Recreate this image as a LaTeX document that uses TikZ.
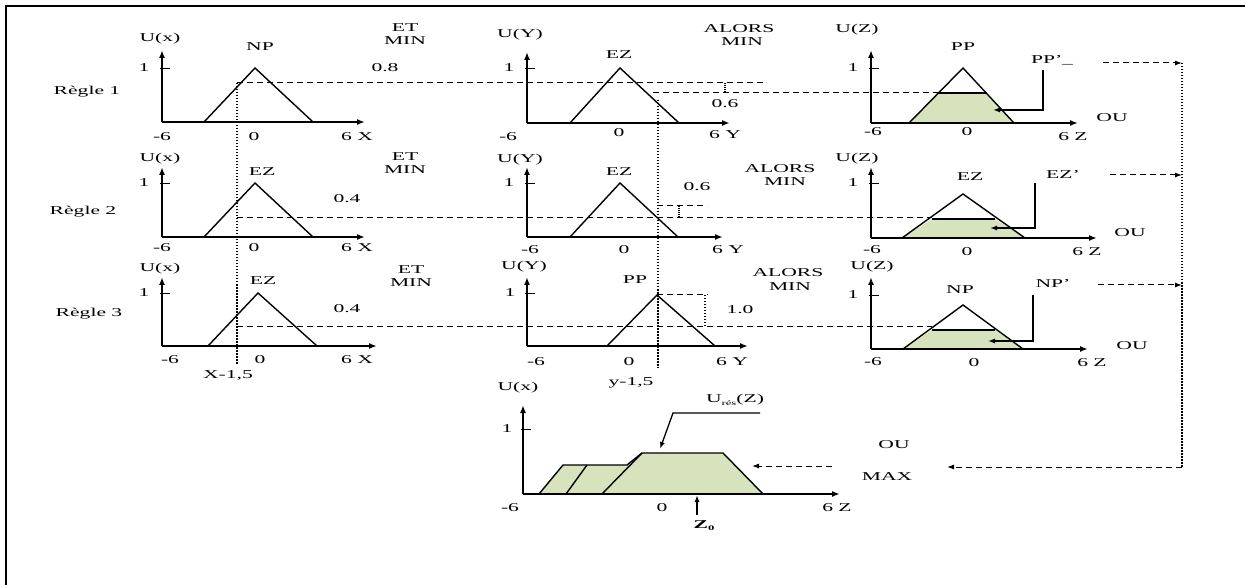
\documentclass[tikz,border=0pt]{standalone}
\usepackage{fontspec}
\newfontfamily\wide{Liberation Serif}[FakeStretch=1.8]
\usetikzlibrary{arrows.meta}
\definecolor{fillg}{RGB}{214,227,188}
\newcommand\myaxes[5]{%
  \draw[axisl] (#1,#2) -- (#1,#3);
  \draw[axisl] (#1,#2) -- (#4,#2);
  \draw[line width=0.9pt] ({#1-2},#5) -- ({#1+8},#5);}
\begin{document}
\begin{tikzpicture}[x=1pt,y=-1pt,
  lbl/.style={font=\wide\fontsize{12}{13}\selectfont, inner sep=0pt},
  axisl/.style={line width=2pt, -{Latex[length=8pt,width=6pt]}},
  tri/.style={line width=1.4pt, line join=miter},
  dsh/.style={line width=1pt, dash pattern=on 6pt off 4pt},
  dotl/.style={line width=2.2pt, dash pattern=on 1.5pt off 1.5pt},
  arr/.style={-{Latex[length=7pt,width=5pt]}},
]
\useasboundingbox (0,0) rectangle (1245,585);
% frame
\draw[line width=2.5pt] (6,585) -- (6,6) -- (1245,6);

% ===== Column 1 =====
\myaxes{162}{122}{50}{365}{68}
\draw[tri] (204,122) -- (255,68) -- (313,122);
\node[lbl] (ux1) at (160,39) {U(x)};
\node[lbl] (o11) at (144,68) {1};
\node[lbl] (np1) at (260,47) {NP};
\node[lbl] (m61) at (162,137) {-6};
\node[lbl] (z01) at (254,137) {0};
\node[lbl] (p61) at (357,137) {6 X};
\node[lbl] (r1) at (87,92) {Règle 1};
\node[lbl] (v08) at (385,68) {0.8};
\node[lbl] (et1) at (405,28) {ET};
\node[lbl] (mn1) at (405,41) {MIN};

\myaxes{162}{237}{167}{365}{183}
\draw[tri] (204,237) -- (255,183) -- (313,237);
\node[lbl] (ux2) at (160,159) {U(x)};
\node[lbl] (o12) at (144,183) {1};
\node[lbl] (ez2) at (262,172) {EZ};
\node[lbl] (m62) at (162,248) {-6};
\node[lbl] (z02) at (254,248) {0};
\node[lbl] (p62) at (357,248) {6 X};
\node[lbl] (r2) at (83,212) {Règle 2};
\node[lbl] (v04a) at (347,199) {0.4};
\node[lbl] (et2) at (405,157) {ET};
\node[lbl] (mn2) at (405,170) {MIN};

\myaxes{162}{346}{277}{377}{293}
\draw[tri] (208,346) -- (258,293) -- (317,346);
\node[lbl] (ux3) at (160,269) {U(x)};
\node[lbl] (o13) at (144,293) {1};
\node[lbl] (ez3) at (263,281) {EZ};
\node[lbl] (m63) at (170,360) {-6};
\node[lbl] (z03) at (260,360) {0};
\node[lbl] (p63) at (357,360) {6 X};
\node[lbl] (r3) at (89,314) {Règle 3};
\node[lbl] (v04b) at (347,309) {0.4};
\node[lbl] (et3) at (411,270) {ET};
\node[lbl] (mn3) at (411,283) {MIN};
\node[lbl] (xv) at (228,375) {X-1,5};
\draw[dotl] (237,83) -- (237,365);

% ===== Column 2 =====
\myaxes{527}{123}{52}{730}{68}
\draw[tri] (570,123) -- (620,68) -- (679,123);
\node[lbl] (uy1) at (520,35) {U(Y)};
\node[lbl] (o21) at (509,68) {1};
\node[lbl] (ez21) at (619,55) {EZ};
\node[lbl] (m621) at (508,137) {-6};
\node[lbl] (z021) at (619,133) {0};
\node[lbl] (p621) at (725,135) {6 Y};
\node[lbl] (v06a) at (725,104) {0.6};
\node[lbl] (al1) at (739,29) {ALORS};
\node[lbl] (am1) at (742,42) {MIN};
\draw[line width=1.2pt, dash pattern=on 1pt off 1pt] (725,83) -- (725,93);

\myaxes{527}{237}{167}{723}{183}
\draw[tri] (570,237) -- (620,183) -- (678,237);
\node[lbl] (uy2) at (520,160) {U(Y)};
\node[lbl] (o22) at (509,183) {1};
\node[lbl] (ez22) at (619,172) {EZ};
\node[lbl] (m622) at (530,250) {-6};
\node[lbl] (z022) at (624,250) {0};
\node[lbl] (p622) at (728,250) {6 Y};
\node[lbl] (v06b) at (697,187) {0.6};
\node[lbl] (al2) at (780,169) {ALORS};
\node[lbl] (am2) at (785,182) {MIN};
\draw[dsh] (657,206) -- (707,206);
\draw[line width=1.2pt, dash pattern=on 1pt off 1pt] (679,206) -- (679,218);

\myaxes{527}{346}{277}{748}{293}
\draw[tri] (607,346) -- (657,295) -- (715,346);
\node[lbl] (uy3) at (524,267) {U(Y)};
\node[lbl] (o23) at (510,293) {1};
\node[lbl] (pp23) at (635,280) {PP};
\node[lbl] (m623) at (536,362) {-6};
\node[lbl] (z023) at (629,362) {0};
\node[lbl] (p623) at (732,362) {6 Y};
\node[lbl] (v10) at (740,310) {1.0};
\node[lbl] (al3) at (788,273) {ALORS};
\node[lbl] (am3) at (790,287) {MIN};
\node[lbl] (yv) at (631,383) {y-1,5};
\draw[dsh] (657,295) -- (708,295);
\draw[dotl] (705,295) -- (705,327);
\draw[dotl] (658,100) -- (658,368);

% ===== dashed level lines =====
\draw[dsh] (237,83) -- (767,83);
\draw[dsh] (653,93) -- (937,93);
\draw[dsh] (237,218) -- (932,218);
\draw[dsh] (237,327) -- (932,327);

% ===== Column 3 =====
\fill[fillg] (909,123) -- (937,93) -- (987,93) -- (1014,123) -- cycle;
\draw[tri] (937,93) -- (987,93);
\myaxes{871}{123}{50}{1078}{68}
\draw[tri] (909,123) -- (963,68) -- (1014,123);
\node[lbl] (uz1) at (857,30) {U(Z)};
\node[lbl] (o31) at (853,68) {1};
\node[lbl] (pp31) at (963,47) {PP};
\node[lbl] (m631) at (873,132) {-6};
\node[lbl] (z031) at (967,132) {0};
\node[lbl] (p631) at (1073,137) {6 Z};
\node[lbl] (ou1) at (1112,118) {OU};
\node[lbl] (ppp) at (1052,60) {PP’\_};
\coordinate (c1a) at (1043,70);
\coordinate (c1b) at (1043,110);
\coordinate (c1c) at (993,110);
\draw[line width=1.3pt, arr] (c1a) -- (c1b) -- (c1c);

\fill[fillg] (902,238) -- (932,219) -- (995,219) -- (1025,238) -- cycle;
\draw[tri] (932,219) -- (995,219);
\myaxes{871}{238}{167}{1097}{183}
\draw[tri] (902,238) -- (963,194) -- (1025,238);
\node[lbl] (uz2) at (857,159) {U(Z)};
\node[lbl] (o32) at (853,183) {1};
\node[lbl] (ez32) at (970,177) {EZ};
\node[lbl] (ezp) at (1063,175) {EZ’};
\node[lbl] (m632) at (872,250) {-6};
\node[lbl] (z032) at (967,252) {0};
\node[lbl] (p632) at (1087,252) {6 Z};
\node[lbl] (ou2) at (1130,233) {OU};
\coordinate (c2a) at (1035,183);
\coordinate (c2b) at (1035,228);
\coordinate (c2c) at (990,228);
\draw[line width=1.3pt, arr] (c2a) -- (c2b) -- (c2c);

\fill[fillg] (903,349) -- (932,330) -- (995,330) -- (1023,349) -- cycle;
\draw[tri] (932,330) -- (995,330);
\myaxes{871}{349}{277}{1088}{295}
\draw[tri] (903,349) -- (963,305) -- (1023,349);
\node[lbl] (uz3) at (872,267) {U(Z)};
\node[lbl] (o33) at (853,295) {1};
\node[lbl] (np33) at (960,290) {NP};
\node[lbl] (npp) at (1053,284) {NP’};
\node[lbl] (m633) at (873,362) {-6};
\node[lbl] (z033) at (974,363) {0};
\node[lbl] (p633) at (1092,363) {6 Z};
\node[lbl] (ou3) at (1132,346) {OU};
\coordinate (c3a) at (1033,295);
\coordinate (c3b) at (1033,341);
\coordinate (c3c) at (988,341);
\draw[line width=1.3pt, arr] (c3a) -- (c3b) -- (c3c);

% ===== collecting arrows =====
\coordinate (k1s) at (1103,63);
\coordinate (k1) at (1182,63);
\coordinate (k2s) at (1110,175);
\coordinate (k2) at (1182,175);
\coordinate (k3s) at (1098,285);
\coordinate (k3) at (1182,285);
\coordinate (kb) at (1182,467);
\coordinate (ke) at (947,467);
\draw[dsh, arr] (k1s) -- (k1);
\draw[dsh, arr] (k2s) -- (k2);
\draw[dsh, arr] (k3s) -- (k3);
\draw[dotl] (k1) -- (kb);
\draw[dsh, arr] (kb) -- (ke);
\node[lbl] (ou4) at (894,445) {OU};
\node[lbl] (mx) at (887,477) {MAX};

% ===== result plot =====
\fill[fillg] (539,494) -- (563,465) -- (627,465) -- (642,453) -- (723,453) -- (763,494) -- cycle;
\draw[tri] (539,494) -- (563,465) -- (627,465) -- (642,453) -- (723,453) -- (763,494);
\draw[tri] (566,494) -- (587,465);
\draw[tri] (602,494) -- (642,453);
\myaxes{523}{494}{405}{840}{429}
\node[lbl] (ux5) at (518,388) {U(x)};
\node[lbl] (o5) at (507,429) {1};
\node[lbl] (m65) at (510,508) {-6};
\node[lbl] (z05) at (662,508) {0};
\node[lbl] (p65) at (837,508) {6 Z};
\node[lbl] (ures) at (735,400) {U\raisebox{-0.4ex}{\fontsize{7}{8}\selectfont rés}(Z)};
\coordinate (ua) at (760,413);
\coordinate (ub) at (673,413);
\coordinate (uc) at (660,449);
\draw[line width=1.3pt, arr] (ua) -- (ub) -- (uc);
\coordinate (ma) at (832,466);
\coordinate (mb) at (752,466);
\draw[dsh, arr] (ma) -- (mb);
\node[lbl, font=\wide\fontsize{12}{13}\selectfont\bfseries] (z0) at (704,526) {Z\raisebox{-0.4ex}{\fontsize{7}{8}\selectfont 0}};
\coordinate (za) at (697,515);
\coordinate (zb) at (697,495);
\draw[line width=1.5pt, arr] (za) -- (zb);
\end{tikzpicture}
\end{document}
